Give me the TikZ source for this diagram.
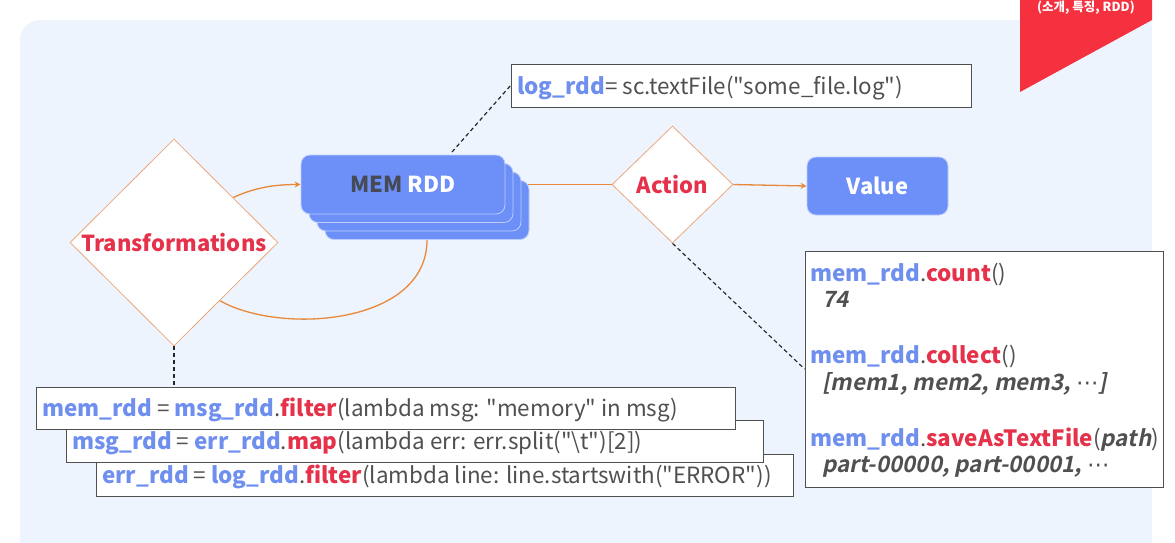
\documentclass[tikz,border=0pt]{standalone}
\usepackage{fontspec}
\setmainfont{Noto Sans CJK KR}[Ligatures=TeXOff,
  ItalicFont={Noto Sans CJK KR}, ItalicFeatures={FakeSlant=0.2},
  BoldItalicFont={Noto Sans CJK KR Bold}, BoldItalicFeatures={FakeSlant=0.2}]
\newfontfamily\djv{DejaVu Sans}
\usetikzlibrary{shapes.geometric,arrows.meta,calc}
\definecolor{panel}{HTML}{EEF4FE}
\definecolor{cblue}{HTML}{6F8FEF}
\definecolor{boxblue}{HTML}{6D90F8}
\definecolor{cred}{HTML}{E5324A}
\definecolor{cgray}{HTML}{505050}
\definecolor{memgray}{HTML}{454A55}
\definecolor{corange}{HTML}{E8883A}
\definecolor{dborder}{HTML}{EBA77A}
\definecolor{bannerred}{HTML}{F5303F}
\pgfdeclarelayer{back}
\pgfdeclarelayer{links}
\pgfsetlayers{back,links,main}
\tikzset{
  rbox/.style={rectangle, rounded corners=9pt, fill=boxblue, draw=white!55!boxblue, line width=0.8pt,
    minimum width=204pt, minimum height=59pt, inner sep=0pt, text=white, font=\fontsize{22}{22}\selectfont\bfseries},
  dia/.style={diamond, fill=white, draw=dborder, line width=0.8pt, inner sep=0pt,
    text=cred, font=\fontsize{22}{22}\selectfont\bfseries},
  codebox/.style={rectangle, fill=white, draw=cgray, line width=0.9pt, inner sep=0pt},
  codetext/.style={anchor=base west, inner sep=0pt, text=cgray, font=\fontsize{22.4}{22}\selectfont},
  flow/.style={draw=corange, line width=1.3pt},
  flowarrow/.style={flow, -{Stealth[length=6pt,width=6pt]}},
  dashlink/.style={draw=black!85, line width=1.2pt, dash pattern=on 4pt off 3pt},
}
\newcommand{\idf}[1]{\textcolor{cblue}{\bfseries #1}}
\newcommand{\mth}[1]{\textcolor{cred}{\bfseries #1}}
\newcommand{\dq}{\symbol{34}}
\newcommand{\mdots}{{\djv\mdseries\upshape ⋯}}
\begin{document}
\begin{tikzpicture}[x=1pt,y=-1pt]
\useasboundingbox (0,0) rectangle (1175,542);
\begin{pgfonlayer}{back}
  \fill[white] (0,0) rectangle (1175,542);
  \fill[panel] (20,560) -- (20,40) arc[start angle=180,end angle=90,radius=20pt] -- (1152,20) -- (1152,560) -- cycle;
\end{pgfonlayer}
% banner
\fill[bannerred] (1020,0) -- (1152,0) -- (1152,20) -- (1020,92) -- cycle;
\node[text=white, font=\fontsize{12.5}{12.5}\selectfont\bfseries] (bannertext) at (1086,7.5) {(소개, 특징, RDD)};

% diamonds
\node[dia, minimum width=208pt, minimum height=207pt] (trans) at (174,242.5) {Transformations};
\node[dia, minimum width=121pt, minimum height=117pt] (action) at (672.5,184.5) {Action};

% MEM RDD stack
\node[rbox] (m3) at (427,210) {};
\node[rbox] (m2) at (419,201.5) {};
\node[rbox] (m1) at (411,193) {};
\node[rbox] (mem) at (403,184.5) {\textcolor{memgray}{MEM} RDD};

% Value
\node[rbox, minimum width=141pt, minimum height=58pt] (value) at (877.5,186) {Value};

% log box
\node[codebox, minimum width=460pt, minimum height=43pt] (logbox) at (741,85.5) {};
\node[codetext] (logtext) at (517,94) {\idf{log\_rdd}= sc.textFile(\dq some\_file.log\dq)};

% code boxes
\node[codebox, minimum width=697pt, minimum height=42pt] (c3) at (444.5,475) {};
\node[codetext] (t3) at (102,483) {\idf{err\_rdd} = \idf{log\_rdd}.\mth{filter}(lambda line: line.startswith(\dq ERROR\dq))};
\node[codebox, minimum width=697pt, minimum height=42pt] (c2) at (414.5,441) {};
\node[codetext] (t2) at (72,449) {\idf{msg\_rdd} = \idf{err\_rdd}.\mth{map}(lambda err: err.split(\dq\textbackslash t\dq)[2])};
\node[codebox, minimum width=699pt, minimum height=42pt] (c1) at (385.5,408) {};
\node[codetext] (t1) at (42,416) {\idf{mem\_rdd} = \idf{msg\_rdd}.\mth{filter}(lambda msg: \dq memory\dq{} in msg)};

% result box
\node[codebox, minimum width=358pt, minimum height=236pt] (res) at (984,369) {};
\node[codetext] (r1) at (810,281) {\idf{mem\_rdd}.\mth{count}()};
\node[codetext] (r2) at (822,307) {\bfseries\itshape 74};
\node[codetext] (r3) at (810,363) {\idf{mem\_rdd}.\mth{collect}()};
\node[codetext] (r4) at (822,390) {\bfseries\itshape [mem1, mem2, mem3, \mdots]};
\node[codetext] (r5) at (810,446) {\idf{mem\_rdd}.\mth{saveAsTextFile}({\bfseries\itshape path})};
\node[codetext] (r6) at (822,472) {\bfseries\itshape part-00000, part-00001, \mdots};

\coordinate (memtop) at (452,152);

\begin{pgfonlayer}{links}
  \draw[flowarrow] ($(trans.north)!0.567!(trans.east)$) .. controls (258,186) and (280,184.5) .. (mem.west);
  \draw[flow] (m3.south) .. controls (427,325) and (280,335) .. ($(trans.south)!0.44!(trans.east)$);
  \draw[flow] (mem.east) -- (action.west);
  \draw[dashlink] (trans.south) -- (trans.south |- c1.north);
  \draw[dashlink] (memtop) -- (logbox.west);
  \draw[dashlink] (action.south) -- (res.west);
\end{pgfonlayer}
\draw[flowarrow] (action.east) -- (value.west);
\end{tikzpicture}
\end{document}
